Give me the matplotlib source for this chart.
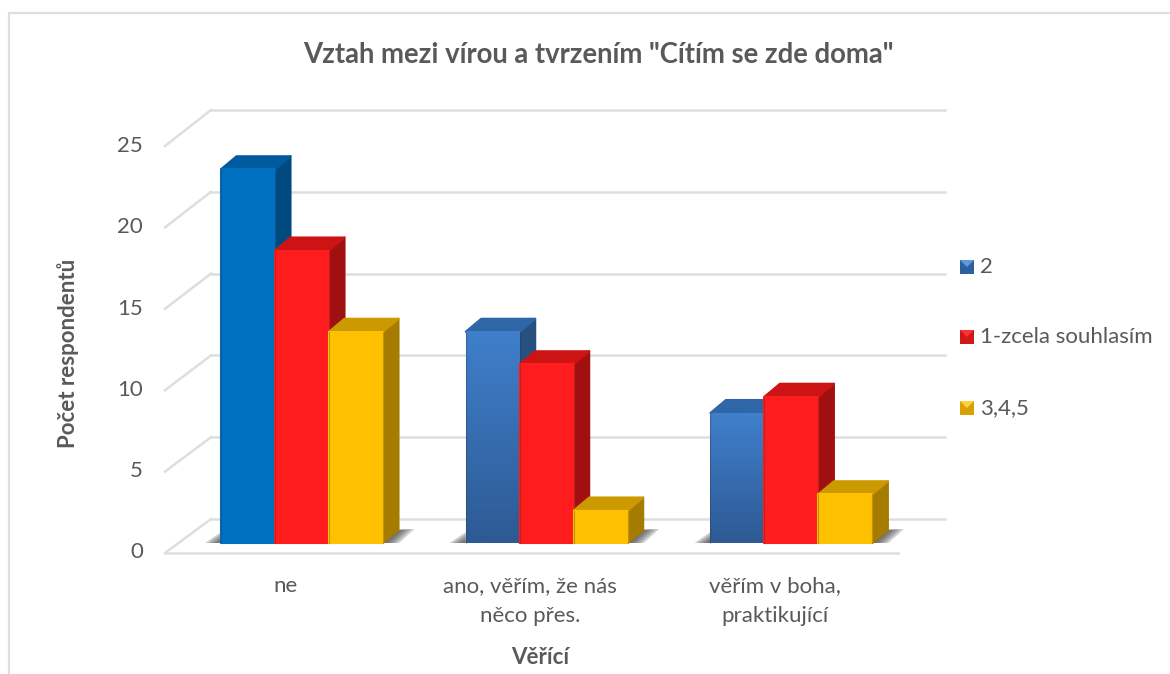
import numpy as np
import matplotlib.pyplot as plt
from matplotlib.colors import to_rgb
from matplotlib.patches import Polygon

plt.rcParams['font.family'] = ['Lato', 'DejaVu Sans']

categories = ['ne', 'ano, věřím, že nás\nněco přes.', 'věřím v boha,\npraktikující']
series_names = ['2', '1-zcela souhlasím', '3,4,5']
values_2 = [23, 13, 8]
values_1 = [18, 11, 9]
values_345 = [13, 2, 3]
y_ticks = [0, 5, 10, 15, 20, 25]

# front, top, side colours
blue = ('#0070c0', '#005a9e', '#004a80')
blue2 = ('#3f7fcb', '#2f66a8', '#26507f')
red = ('#ff1c1c', '#cc1414', '#a01010')
yellow = ('#ffc000', '#cc9a00', '#a67c00')
text_col = '#595959'
grid_col = '#dedede'

fig = plt.figure(figsize=(11.7, 6.74), dpi=100)
ax = fig.add_axes([0, 0, 1, 1])

# pixel scale of the data axes
px_x = 244.7
px_y = 16.25
x0 = 221 + 81.0
y0 = 543
ax.set_xlim(-x0 / px_x, (1170 - x0) / px_x)
ax.set_ylim(-(674 - y0) / px_y, y0 / px_y)
ax.axis('off')


def dx(p):
    return p / px_x


def dy(p):
    return p / px_y


def poly(pts, color, z, alpha=1.0, edge=False):
    ax.add_patch(Polygon(pts, closed=True, facecolor=color, edgecolor=color if edge else 'none',
                         lw=1.5 if edge else 0, joinstyle='round', alpha=alpha, zorder=z))


def px_line(xs, ys, color=grid_col, lw=2.0, z=1):
    ax.plot([(x - x0) / px_x for x in xs], [(y0 - y) / px_y for y in ys],
            color=color, lw=lw, zorder=z, solid_capstyle='butt')


# outer frame, the right side is cut off in the reference
px_line([9, 9, 1170], [674, 13, 13], lw=1.6)

# walls and floor grid
back_left = dx(211 - x0)
back_right = dx(945 - x0)
front_left = dx(165 - x0)
for v in y_ticks:
    yb = dy(24) + v * 16.36 / px_y
    yf = -dy(10) + v * 16.28 / px_y
    ax.plot([back_left, back_right], [yb, yb], color=grid_col, lw=1.8, zorder=1)
    ax.plot([front_left, back_left], [yf, yb], color=grid_col, lw=1.8, zorder=1)
    ax.text(dx(143 - x0), v - dy(8) - dy(1.5), str(v), ha='right', va='center',
            fontsize=16, color=text_col)
ax.plot([front_left, dx(898 - x0)], [-dy(10), -dy(10)], color=grid_col, lw=1.8, zorder=1)

bw = dx(54)
ddx = dx(15.5)
ddy = dy(13)


def gradient_bar(x, h, top_col, bottom_col, z):
    c1 = np.array(to_rgb(top_col))
    c2 = np.array(to_rgb(bottom_col))
    t = np.linspace(0, 1, 64)[:, None]
    img = (c1 * (1 - t) + c2 * t)[:, None, :]
    ax.imshow(img, extent=[x, x + bw, 0, h], aspect='auto', zorder=z, interpolation='bilinear')


def group_shadow(left, right, z):
    # layered polygons fake the soft shadow on the floor
    for k in [1.0, 0.8, 0.6, 0.4, 0.2]:
        poly([(left - dx(16) * k, 0), (left, dy(11) * k), (left, 0)], '#404040', z, alpha=0.25)
        poly([(right, 0), (right + ddx, ddy), (right + ddx + dx(16) * k, ddy + dy(1)),
              (right + dx(16) * k, 0)], '#404040', z, alpha=0.25)


def bar3d(x, h, cols, z, gradient=False):
    poly([(x + bw, 0), (x + bw + ddx, ddy), (x + bw + ddx, h + ddy), (x + bw, h)], cols[2], z, edge=True)
    poly([(x, h), (x + ddx, h + ddy), (x + bw + ddx, h + ddy), (x + bw, h)], cols[1], z, edge=True)
    if gradient:
        gradient_bar(x, h, '#3f7fcb', '#2d5a94', z + 0.1)
    else:
        poly([(x, 0), (x + bw, 0), (x + bw, h), (x, h)], cols[0], z + 0.1, edge=True)
    # dark edge lines on the front face
    for ex in (x, x + bw):
        ax.plot([ex, ex], [0, h], color='#303030', lw=0.8, alpha=0.3, zorder=z + 0.2)


z = 3
for i in range(len(categories)):
    left = i - 1.5 * bw
    group_shadow(left, left + 3 * bw, 2)
    # first group is a solid blue, the others use the gradient
    bar3d(left, values_2[i], blue if i == 0 else blue2, z, gradient=i > 0)
    z += 1
    bar3d(left + bw, values_1[i], red, z)
    z += 1
    bar3d(left + 2 * bw, values_345[i], yellow, z)
    z += 1
    lx = i - dx(16.5)
    ax.text(lx, -dy(586 - 543), categories[i].split('\n')[0], ha='center', va='center',
            fontsize=16, color=text_col)
    if '\n' in categories[i]:
        ax.text(lx, -dy(616 - 543), categories[i].split('\n')[1], ha='center', va='center',
                fontsize=16, color=text_col)

# legend
legend_y = [267, 337, 408]
legend_cols = [('#5a9ae0', '#2f5f9e'), ('#ff3030', '#d01818'), ('#ffd040', '#d8a000')]
for name, ly, (c_top, c_body) in zip(series_names, legend_y, legend_cols):
    kx = dx(960 - x0)
    ky = -dy(ly - y0)
    s_x = dx(14)
    s_y = dy(14)
    poly([(kx, ky - s_y / 2), (kx + s_x, ky - s_y / 2), (kx + s_x, ky + s_y / 2), (kx, ky + s_y / 2)], c_body, 20)
    poly([(kx, ky + s_y / 2), (kx + s_x, ky + s_y / 2), (kx + s_x / 2, ky)], c_top, 21)
    ax.text(dx(980 - x0), ky, name, ha='left', va='center', fontsize=16, color=text_col)

# titles
ax.text(dx(598 - x0), dy(y0 - 55), 'Vztah mezi vírou a tvrzením "Cítím se zde doma"',
        ha='center', va='center', fontsize=19.8, fontweight='bold', color=text_col)
ax.text(dx(540 - x0), dy(y0 - 658), 'Věřící', ha='center', va='center',
        fontsize=16, fontweight='bold', color=text_col)
ax.text(dx(68 - x0), dy(y0 - 353), 'Počet respondentů', ha='center', va='center', rotation=90,
        fontsize=16, fontweight='bold', color=text_col)

ax.set_xlim(-x0 / px_x, (1170 - x0) / px_x)
ax.set_ylim(-(674 - y0) / px_y, y0 / px_y)
fig.savefig('out.png', dpi=100)
